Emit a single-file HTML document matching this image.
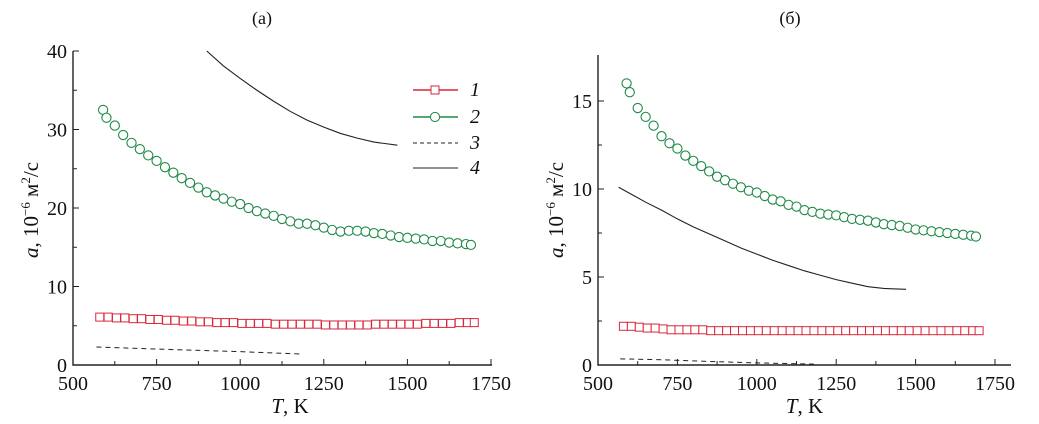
<!DOCTYPE html>
<html><head><meta charset="utf-8"><style>
body{margin:0;background:#fff;width:1039px;height:424px;overflow:hidden}
svg{display:block}
text{font-family:"Liberation Serif",serif;fill:#111}
</style></head><body>
<svg id="c" width="1039" height="424"></svg>
<script>
const tA=[590,600,625,650,675,700,725,750,775,800,825,850,875,900,925,950,975,1000,1025,1050,1075,1100,1125,1150,1175,1200,1225,1250,1275,1300,1325,1350,1375,1400,1425,1450,1475,1500,1525,1550,1575,1600,1625,1650,1675,1690];
const greenA=[32.5,31.5,30.5,29.3,28.3,27.5,26.7,26,25.2,24.5,23.8,23.2,22.6,22,21.6,21.2,20.8,20.5,20,19.6,19.3,19,18.6,18.3,18,18,17.8,17.5,17.2,17,17.1,17.1,17,16.8,16.7,16.5,16.3,16.2,16.1,16,15.8,15.8,15.6,15.5,15.4,15.3];
const tRed=[580,605,630,655,680,705,730,755,780,805,830,855,880,905,930,955,980,1005,1030,1055,1080,1105,1130,1155,1180,1205,1230,1255,1280,1305,1330,1355,1380,1405,1430,1455,1480,1505,1530,1555,1580,1605,1630,1655,1680,1700];
const redA=[6.1,6.1,6.0,6.0,5.9,5.9,5.8,5.8,5.7,5.7,5.6,5.6,5.5,5.5,5.4,5.4,5.4,5.3,5.3,5.3,5.3,5.2,5.2,5.2,5.2,5.2,5.2,5.1,5.1,5.1,5.1,5.1,5.1,5.2,5.2,5.2,5.2,5.2,5.2,5.3,5.3,5.3,5.3,5.4,5.4,5.4];
const tDash=[570,700,850,1000,1180];
const dashA=[2.3,2.1,1.9,1.7,1.4];
const tLine4A=[900,950,1000,1050,1100,1150,1200,1250,1300,1350,1400,1470];
const line4A=[40,38.1,36.5,35,33.6,32.3,31.2,30.3,29.5,28.9,28.4,28];
const greenB=[16,15.5,14.6,14.1,13.6,13,12.6,12.3,11.9,11.6,11.3,11,10.7,10.5,10.3,10.1,9.9,9.8,9.6,9.4,9.3,9.1,9.0,8.8,8.7,8.6,8.55,8.5,8.4,8.3,8.25,8.2,8.1,8,7.95,7.9,7.8,7.7,7.65,7.6,7.55,7.5,7.45,7.4,7.35,7.3];
const redB=[2.2,2.2,2.15,2.1,2.1,2.05,2.0,2.0,2.0,2.0,2.0,1.95,1.95,1.95,1.95,1.95,1.95,1.95,1.95,1.95,1.95,1.95,1.95,1.95,1.95,1.95,1.95,1.95,1.95,1.95,1.95,1.95,1.95,1.95,1.95,1.95,1.95,1.95,1.95,1.95,1.95,1.95,1.95,1.95,1.95,1.95];
const dashB=[0.35,0.3,0.2,0.12,0.05];
const tLine4B=[565,600,650,700,750,800,850,900,950,1000,1050,1100,1150,1200,1250,1300,1350,1400,1470];
const line4B=[10.1,9.75,9.25,8.8,8.3,7.85,7.45,7.05,6.65,6.3,5.95,5.65,5.35,5.1,4.85,4.65,4.45,4.35,4.3];
const xTicks=[500,750,1000,1250,1500,1750];
const yTicksA=[0,10,20,30,40];
const yTicksB=[0,5,10,15];

const svg=document.getElementById('c');
const NS='http://www.w3.org/2000/svg';
function mk(tag,attrs,parent){const e=document.createElementNS(NS,tag);for(const k in attrs)e.setAttribute(k,attrs[k]);(parent||svg).appendChild(e);return e;}

function panel(p){
  const g=mk('g',{});
  
  
  const X=v=>p.x0+(v-500)*(p.x1-p.x0)/1250;
  const Y=v=>p.yb-v*p.ys;
  const ax=mk('path',{d:`M${p.x0},${p.ytop}V${p.yb}H${p.xend}`,stroke:'#222','stroke-width':1.4,fill:'none'},g);
  
  
  xTicks.forEach(v=>{
    mk('line',{x1:X(v),x2:X(v),y1:p.yb,y2:p.yb-6,stroke:'#222'},g);
    if(v<1750)mk('line',{x1:X(v+125),x2:X(v+125),y1:p.yb,y2:p.yb-4,stroke:'#222'},g);
    const t=mk('text',{x:X(v),y:p.yb+25,'text-anchor':'middle','font-size':20},g);t.textContent=v;
    
    
  });
  p.yt.forEach((v,i)=>{
    mk('line',{x1:p.x0,x2:p.x0+6,y1:Y(v),y2:Y(v),stroke:'#222'},g);
    if(i<p.yt.length-1||p.minorTop)mk('line',{x1:p.x0,x2:p.x0+4,y1:Y(v+p.step/2),y2:Y(v+p.step/2),stroke:'#222'},g);
    const t=mk('text',{x:p.x0-6,y:Y(v)+7,'text-anchor':'end','font-size':20},g);t.textContent=v;
    
    
  });
  const line=(xs,ys,attrs,name)=>{const e=mk('polyline',Object.assign({points:xs.map((x,i)=>X(x)+','+Y(ys[i])).join(' '),fill:'none'},attrs),g);
    
    };
  line(p.t4,p.l4,{stroke:'#222','stroke-width':1.1},'series-4-line');
  line(tDash,p.d,{stroke:'#222','stroke-width':1,'stroke-dasharray':'5,4'},'series-3-dashed');
  tRed.forEach((x,i)=>{const r=mk('rect',{x:X(x)-4,y:Y(p.r[i])-4,width:8,height:8,fill:'#fff',stroke:'#d8283a','stroke-width':1},g);
    
    });
  tA.forEach((x,i)=>{const c=mk('circle',{cx:X(x),cy:Y(p.gr[i]),r:4.6,fill:'#fff',stroke:'#1e8a45','stroke-width':1.1},g);
    
    });
  const tt=mk('text',{x:p.titleX,y:24,'text-anchor':'middle','font-size':18},g);tt.textContent=p.title;
  
  
  const xl=mk('text',{x:(p.x0+p.x1)/2+8,y:413,'text-anchor':'middle','font-size':21},g);
  xl.innerHTML='<tspan font-style="italic">T</tspan>, K';
  
  
  const yl=mk('text',{x:0,y:0,'text-anchor':'middle','font-size':21,transform:`translate(${p.x0-35},${p.ymid}) rotate(-90)`},g);
  yl.innerHTML='<tspan font-style="italic">a</tspan>, 10<tspan font-size="13" dy="-8">−6</tspan><tspan dy="8"> м</tspan><tspan font-size="13" dy="-8">2</tspan><tspan dy="8">/с</tspan>';
  
  
}
panel({name:'panel-a',x0:73,x1:491,xend:492,yb:365,ytop:51,ys:7.85,yt:yTicksA,step:10,minorTop:false,ymid:210,t4:tLine4A,l4:line4A,d:dashA,r:redA,gr:greenA,title:'(a)',titleX:262});
panel({name:'panel-b',x0:598,x1:995,xend:1011,yb:365,ytop:55,ys:17.6,yt:yTicksB,step:5,minorTop:false,ymid:210,t4:tLine4B,l4:line4B,d:dashB,r:redB,gr:greenB,title:'(б)',titleX:790});

const leg=mk('g',{});


[['1','#d8283a','sq',90],['2','#1e8a45','ci',117],['3','#222','da',143],['4','#222','li',168]].forEach(([lab,col,k,y])=>{
  const e=mk('g',{},leg);
  
  
  mk('line',{x1:413,x2:458,y1:y,y2:y,stroke:col,'stroke-width':k=='da'||k=='li'?1:1.6,'stroke-dasharray':k=='da'?'4,3':'none'},e);
  if(k=='sq')mk('rect',{x:431,y:y-4,width:8,height:8,fill:'#fff',stroke:col},e);
  if(k=='ci')mk('circle',{cx:435,cy:y,r:4.6,fill:'#fff',stroke:col},e);
  const t=mk('text',{x:470,y:y+6,'font-size':20,'font-style':'italic'},e);t.textContent=lab;
});
</script>
</body></html>
